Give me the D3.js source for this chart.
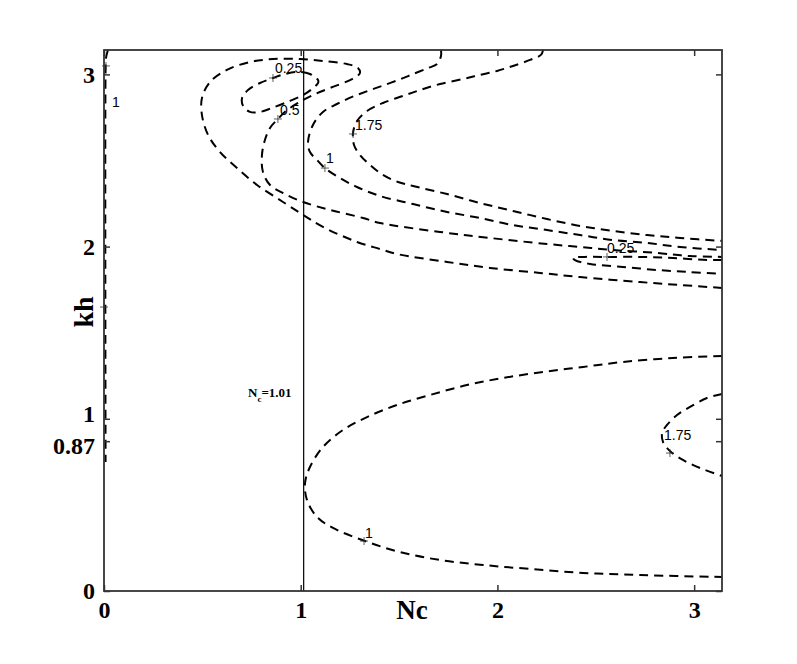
<!DOCTYPE html>
<html>
<head>
<meta charset="utf-8">
<script src="https://cdn.jsdelivr.net/npm/d3@7"></script>
<style>
  body { margin: 0; background: #fff; }
  svg { display: block; }
</style>
</head>
<body>
<svg id="chart" width="797" height="664"></svg>
<script>
// contour lines, each point is [Nc, kh]
var c025Loop = [[1.088,2.967],[1.047,3.002],[0.986,3.014],[0.920,3.002],[0.859,2.979],[0.793,2.950],
  [0.732,2.909],[0.702,2.863],[0.707,2.817],[0.742,2.782],[0.793,2.782],[0.854,2.805],[0.946,2.846],
  [1.012,2.880],[1.057,2.915],[1.088,2.950]];
var c025Tongue = [[3.142,1.922],[3.065,1.922],[2.892,1.934],[2.725,1.940],[2.557,1.940],[2.445,1.940],
  [2.384,1.934],[2.394,1.922],[2.471,1.899],[2.638,1.882],[2.811,1.864],[2.979,1.852],[3.142,1.841]];
var c050 = [[3.142,1.760],[2.928,1.777],[2.725,1.794],[2.420,1.823],[2.216,1.847],[1.962,1.876],
  [1.744,1.911],[1.489,1.957],[1.403,1.986],[1.286,2.027],[1.113,2.114],
  [1.012,2.184],[0.910,2.259],[0.778,2.358],[0.676,2.456],[0.590,2.549],[0.529,2.648],[0.498,2.764],
  [0.498,2.863],[0.539,2.956],[0.625,3.026],[0.742,3.072],[0.859,3.089],[0.996,3.089],[1.113,3.078],
  [1.235,3.060],[1.291,3.037],[1.301,3.008],[1.261,2.973],[1.149,2.921],[1.062,2.880],[0.986,2.834],
  [0.925,2.787],[0.884,2.741],[0.844,2.689],[0.818,2.619],[0.803,2.532],[0.808,2.433],[0.844,2.358],
  [0.910,2.311],[1.012,2.259],[1.149,2.213],[1.317,2.166],[1.403,2.137],[1.708,2.085],[1.962,2.050],
  [2.252,2.015],[2.420,1.998],[2.587,1.980],[2.811,1.963],[2.979,1.945],[3.142,1.940]];
var c100Edge = [[0.020,3.142],[0.010,3.095],[0.008,3.026],[0.008,0.749]];
var c100Upper = [[1.713,3.142],[1.713,3.107],[1.693,3.060],[1.647,3.037],[1.571,3.002],[1.495,2.967],
  [1.413,2.933],[1.342,2.904],[1.261,2.869],[1.184,2.828],[1.113,2.782],[1.062,2.706],[1.037,2.607],
  [1.047,2.549],[1.083,2.503],[1.123,2.456],[1.200,2.398],[1.286,2.346],[1.403,2.294],[1.571,2.247],
  [1.744,2.201],[1.911,2.166],[2.079,2.125],[2.252,2.096],[2.420,2.067],[2.587,2.038],[2.760,2.021],
  [2.928,1.998],[3.142,1.980]];
var c100Lower = [[3.142,1.365],[2.892,1.353],[2.638,1.330],[2.435,1.301],[2.232,1.272],[2.028,1.237],
  [1.845,1.196],[1.657,1.138],[1.489,1.080],[1.337,1.010],[1.215,0.935],[1.113,0.836],[1.047,0.720],
  [1.022,0.627],[1.032,0.528],[1.083,0.430],[1.164,0.366],[1.327,0.290],[1.505,0.226],[1.708,0.180],
  [1.927,0.151],[2.166,0.128],[2.435,0.105],[2.725,0.093],[3.142,0.081]];
var c175Upper = [[2.232,3.142],[2.221,3.113],[2.166,3.084],[2.079,3.049],[1.998,3.020],[1.911,2.997],
  [1.825,2.973],[1.708,2.944],[1.606,2.909],[1.520,2.875],[1.418,2.834],[1.337,2.787],[1.286,2.729],
  [1.266,2.660],[1.271,2.590],[1.301,2.532],[1.352,2.474],[1.418,2.416],[1.495,2.375],[1.571,2.352],
  [1.744,2.305],[1.911,2.253],[2.079,2.207],[2.252,2.160],[2.420,2.120],[2.587,2.091],[2.760,2.067],
  [2.928,2.050],[3.142,2.033]];
var c175Lower = [[3.142,1.144],[3.065,1.121],[2.979,1.069],[2.913,1.022],[2.862,0.964],[2.837,0.918],
  [2.842,0.865],[2.877,0.813],[2.943,0.761],[3.030,0.714],[3.142,0.668]];

// contour labels (text position) and their "+" markers
var labelText = ["0.25", "0.5", "1.75", "1", "0.25", "1", "1.75", "1"];
var labelNc = [0.869, 0.895, 1.276, 1.128, 2.557, 1.327, 2.847, 0.041];
var labelKh = [3.008, 2.764, 2.677, 2.485, 1.963, 0.308, 0.877, 2.811];
var markerNc = [0.859, 0.884, 1.266, 1.123, 2.557, 1.322, 2.877, 0.010, 0.0];
var markerKh = [2.979, 2.741, 2.654, 2.456, 1.940, 0.290, 0.801, 3.049, 1.649];

var xTicks = [0, 1, 2, 3];
var yTicks = [0, 0.87, 1, 2, 3];
var ncCritical = 1.015;

var svg = d3.select("#chart");
var x = d3.scaleLinear().domain([0, Math.PI]).range([104, 722]);
var y = d3.scaleLinear().domain([0, Math.PI]).range([591, 50]);

var serif = "'Liberation Serif', 'Times New Roman', serif";
var sans = "'Liberation Sans', Arial, sans-serif";

// critical Nc line
svg.append("line")
  .attr("x1", x(ncCritical)).attr("x2", x(ncCritical))
  .attr("y1", y(0)).attr("y2", y(Math.PI))
  .attr("stroke", "#000").attr("stroke-width", 1.2);

var ncText = svg.append("text")
  .attr("x", x(0.732)).attr("y", y(1.127))
  .attr("font-family", serif).attr("font-weight", "bold").attr("font-size", 13);
ncText.append("tspan").text("N");
ncText.append("tspan").attr("font-size", 9).attr("dy", 5).text("c");
ncText.append("tspan").attr("dy", -5).text("=1.01");

// contours
var line = d3.line().x(function(d) { return x(d[0]); }).y(function(d) { return y(d[1]); })
  .curve(d3.curveCatmullRom.alpha(0.5));
var loop = d3.line().x(function(d) { return x(d[0]); }).y(function(d) { return y(d[1]); })
  .curve(d3.curveCatmullRomClosed.alpha(0.5));

var g = svg.append("g")
  .attr("fill", "none").attr("stroke", "#000")
  .attr("stroke-width", 2).attr("stroke-dasharray", "9,6");

[c025Tongue, c050, c100Edge, c100Upper, c100Lower, c175Upper, c175Lower].forEach(function(c) {
  g.append("path").attr("d", line(c));
});
g.append("path").attr("d", loop(c025Loop));

// label markers
markerNc.forEach(function(n, i) {
  var px = x(n), py = y(markerKh[i]);
  svg.append("path")
    .attr("d", "M" + (px - 4) + "," + py + "H" + (px + 4) + "M" + px + "," + (py - 4) + "V" + (py + 4))
    .attr("stroke", "#333").attr("stroke-width", 0.8);
});

labelText.forEach(function(t, i) {
  svg.append("text")
    .attr("x", x(labelNc[i])).attr("y", y(labelKh[i]))
    .attr("font-family", sans).attr("font-size", 14).attr("fill", "#000")
    .text(t);
});

// axes box with inward ticks
var axisColor = "#333";

var axBottom = svg.append("g").attr("transform", "translate(0," + y(0) + ")")
  .call(d3.axisBottom(x).tickValues(xTicks).tickSize(-6).tickSizeOuter(0).tickPadding(10)
    .tickFormat(d3.format("d")));
var axTop = svg.append("g").attr("transform", "translate(0," + y(Math.PI) + ")")
  .call(d3.axisTop(x).tickValues(xTicks).tickSize(-6).tickSizeOuter(0).tickFormat(""));
var axLeft = svg.append("g").attr("transform", "translate(" + x(0) + ",0)")
  .call(d3.axisLeft(y).tickValues(yTicks).tickSize(-6).tickSizeOuter(0).tickPadding(9)
    .tickFormat(function(d) { return d; }));
var axRight = svg.append("g").attr("transform", "translate(" + x(Math.PI) + ",0)")
  .call(d3.axisRight(y).tickValues(yTicks).tickSize(-6).tickSizeOuter(0).tickFormat(""));

[axBottom, axTop, axLeft, axRight].forEach(function(a) {
  a.select(".domain").remove();
  a.selectAll(".tick line").attr("stroke", axisColor).attr("stroke-width", 1.5);
  a.selectAll(".tick text")
    .attr("fill", "#000")
    .attr("font-family", serif).attr("font-weight", "bold").attr("font-size", 24);
});

// the 1 and 0.87 labels sit very close, push them apart a little
axLeft.selectAll(".tick text")
  .attr("dy", function(d) { return d === 1 ? "0.12em" : d === 0.87 ? "0.5em" : "0.32em"; });

svg.append("rect")
  .attr("x", x(0)).attr("y", y(Math.PI))
  .attr("width", x(Math.PI) - x(0)).attr("height", y(0) - y(Math.PI))
  .attr("fill", "none").attr("stroke", axisColor).attr("stroke-width", 1.8);

// axis titles
svg.append("text")
  .attr("x", 412).attr("y", 619)
  .attr("text-anchor", "middle")
  .attr("font-family", serif).attr("font-weight", "bold").attr("font-size", 27)
  .text("Nc");

svg.append("text")
  .attr("transform", "translate(93,312) rotate(-90)")
  .attr("text-anchor", "middle")
  .attr("font-family", serif).attr("font-weight", "bold").attr("font-size", 28)
  .text("kh");
</script>
</body>
</html>
